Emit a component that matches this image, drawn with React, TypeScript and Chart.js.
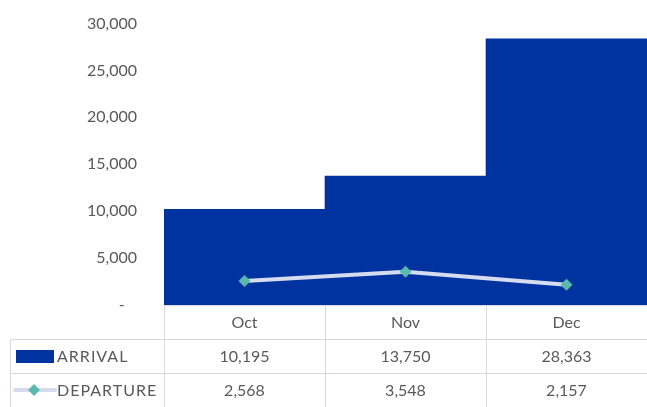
import React, { useEffect, useRef } from "react";
import { Chart, registerables } from "chart.js";

Chart.register(...registerables);

const categories = ["Oct", "Nov", "Dec"];
const arrivalLabel = "ARRIVAL";
const departureLabel = "DEPARTURE";
const arrivals = [10195, 13750, 28363];
const departures = [2568, 3548, 2157];
const yTicks = [0, 5000, 10000, 15000, 20000, 25000, 30000];

const BAR_COLOR = "#0033A0";
const LINE_COLOR = "#D6DCF0";
const MARKER_COLOR = "#5BB8AC";
const TEXT_COLOR = "#595959";
const GRID_COLOR = "#D9D9D9";
const FONT = "Lato, 'Open Sans', sans-serif";

const fmt = (v: number) => v.toLocaleString("en-US");

const tablePlugin = {
  id: "dataTable",
  afterDraw(chart: any) {
    const { ctx, chartArea, scales } = chart;
    const x = scales.x;
    const W = chart.width;
    const H = chart.height;
    const top = chartArea.bottom;
    const rowH = (H - top) / 3;
    const r1 = top + rowH;
    const r2 = top + rowH * 2;
    const left = chartArea.left;
    const n = categories.length;
    const catW = (chartArea.right - chartArea.left) / n;
    const tableLeft = 10;

    ctx.save();
    ctx.strokeStyle = GRID_COLOR;
    ctx.lineWidth = 1;
    ctx.beginPath();
    ctx.moveTo(left, Math.round(top) + 0.5);
    ctx.lineTo(W, Math.round(top) + 0.5);
    ctx.moveTo(tableLeft, Math.round(r1) + 0.5);
    ctx.lineTo(W, Math.round(r1) + 0.5);
    ctx.moveTo(tableLeft, Math.round(r2) + 0.5);
    ctx.lineTo(W, Math.round(r2) + 0.5);
    for (let i = 0; i < n; i++) {
      const vx = Math.round(left + catW * i) + 0.5;
      ctx.moveTo(vx, top);
      ctx.lineTo(vx, H);
    }
    ctx.moveTo(tableLeft + 0.5, r1);
    ctx.lineTo(tableLeft + 0.5, H);
    ctx.stroke();

    ctx.fillStyle = TEXT_COLOR;
    ctx.font = `16px ${FONT}`;
    ctx.textAlign = "center";
    ctx.textBaseline = "middle";
    categories.forEach((c, i) => {
      const cx = x.getPixelForValue(i);
      ctx.fillText(c, cx, top + rowH / 2 + 1);
      ctx.fillText(fmt(arrivals[i]), cx, r1 + rowH / 2 + 1);
      ctx.fillText(fmt(departures[i]), cx, r2 + rowH / 2 + 1);
    });

    const y1 = r1 + rowH / 2;
    const y2 = r2 + rowH / 2;
    ctx.fillStyle = BAR_COLOR;
    ctx.fillRect(16, y1 - 6, 38, 13);
    ctx.strokeStyle = LINE_COLOR;
    ctx.lineWidth = 4;
    ctx.lineCap = "round";
    ctx.beginPath();
    ctx.moveTo(15, y2);
    ctx.lineTo(55, y2);
    ctx.stroke();
    ctx.fillStyle = MARKER_COLOR;
    ctx.beginPath();
    const dx = 34, d = 6;
    ctx.moveTo(dx, y2 - d);
    ctx.lineTo(dx + d, y2);
    ctx.lineTo(dx, y2 + d);
    ctx.lineTo(dx - d, y2);
    ctx.closePath();
    ctx.fill();

    ctx.fillStyle = TEXT_COLOR;
    ctx.textAlign = "left";
    (ctx as any).letterSpacing = "1px";
    ctx.fillText(arrivalLabel, 57, y1 + 1);
    ctx.fillText(departureLabel, 57, y2 + 1);
    ctx.restore();
  },
};

export default function App() {
  const ref = useRef<HTMLCanvasElement>(null);
  useEffect(() => {
    document.body.style.margin = "0";
    if (!ref.current) return;
    const chart = new Chart(ref.current, {
      type: "bar",
      data: {
        labels: categories,
        datasets: [
          {
            type: "line",
            label: departureLabel,
            data: departures,
            borderColor: LINE_COLOR,
            borderWidth: 4,
            pointStyle: "rectRot",
            pointRadius: 6,
            pointBackgroundColor: MARKER_COLOR,
            pointBorderWidth: 0,
            order: 0,
          },
          {
            type: "bar",
            label: arrivalLabel,
            data: arrivals,
            backgroundColor: BAR_COLOR,
            categoryPercentage: 1,
            barPercentage: 1,
            order: 1,
          },
        ],
      },
      options: {
        animation: false,
        responsive: true,
        maintainAspectRatio: false,
        layout: { autoPadding: false, padding: { top: 23.5, bottom: 102, left: 0, right: 0 } },
        plugins: { legend: { display: false }, tooltip: { enabled: false } },
        scales: {
          x: { display: false },
          y: {
            min: 0,
            max: 30000,
            afterBuildTicks: (s: any) => {
              s.ticks = yTicks.map((v) => ({ value: v }));
            },
            afterFit: (s: any) => {
              s.width = 164;
              s.paddingTop = 0;
              s.paddingBottom = 0;
            },
            grid: { display: false, drawTicks: false },
            border: { display: false },
            ticks: {
              padding: 27,
              color: TEXT_COLOR,
              font: { family: FONT, size: 16 },
              callback: (v: any) => (Number(v) === 0 ? "-   " : fmt(Number(v))),
            },
          },
        },
      },
      plugins: [tablePlugin],
    } as any);
    return () => chart.destroy();
  }, []);
  return (
    <div style={{ width: 647, height: 407, position: "relative" }}>
      <canvas ref={ref} />
    </div>
  );
}
